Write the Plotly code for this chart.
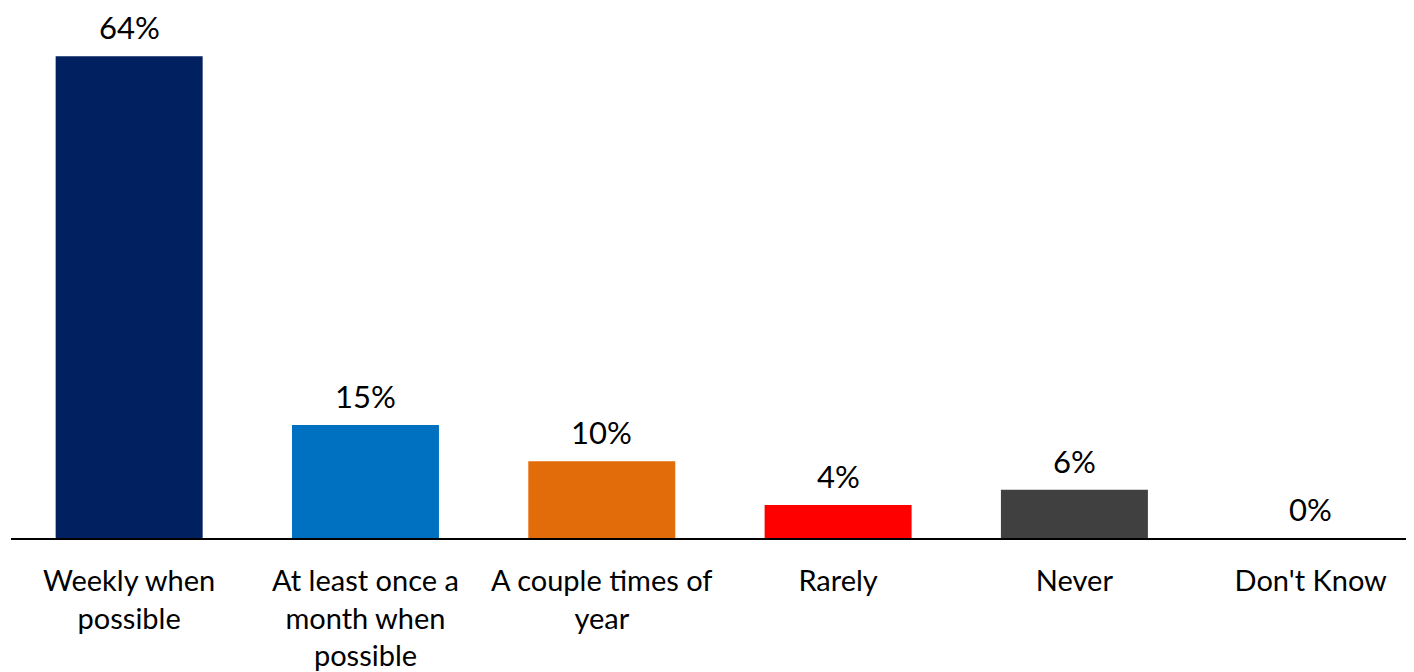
import plotly.graph_objects as go

categories = ["Weekly when<br>possible", "At least once a<br>month when<br>possible",
              "A couple times of<br>year", "Rarely", "Never", "Don't Know"]
values = [64, 15, 10.2, 4.4, 6.4, 0]
labels = ["64%", "15%", "10%", "4%", "6%", "0%"]
colors = ["#002060", "#0070C0", "#E36C0A", "#FF0000", "#404040", "#A5A5A5"]

FONT = "Lato, Calibri, Carlito, sans-serif"

fig = go.Figure(go.Bar(
    x=list(range(len(categories))), y=values,
    marker=dict(color=colors, line=dict(width=0)),
    hoverinfo="skip",
))

for i, (v, t) in enumerate(zip(values, labels)):
    fig.add_annotation(x=i, y=v, text=t, showarrow=False, yanchor="bottom",
                       yshift=8, font=dict(family=FONT, size=31, color="#000000"))

fig.update_layout(
    width=1406, height=664,
    margin=dict(l=3, r=0, t=0, b=134),
    plot_bgcolor="white", paper_bgcolor="white",
    bargap=0.378, showlegend=False,
    font=dict(family=FONT, color="#000000"),
)
fig.update_xaxes(
    range=[-0.5, 5.437], tickmode="array", tickvals=list(range(len(categories))),
    ticktext=categories, showline=True, linecolor="#000000", linewidth=2,
    showgrid=False, zeroline=False, ticks="", tickfont=dict(family=FONT, size=29),
    ticklabelstandoff=16,
)
fig.update_yaxes(range=[0, 70.4], visible=False, showgrid=False, zeroline=False)

fig.write_html("out.html")
